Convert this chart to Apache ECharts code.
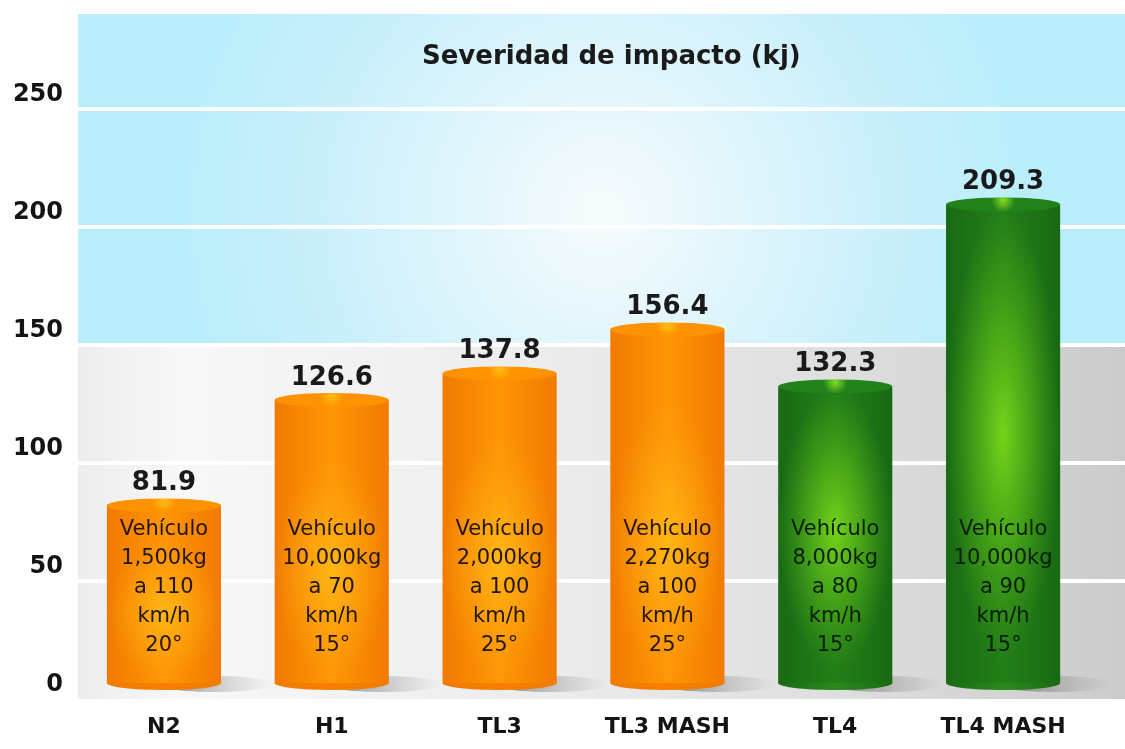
<!DOCTYPE html>
<html>
<head>
<meta charset="utf-8">
<script src="https://cdn.jsdelivr.net/npm/echarts@6/dist/echarts.min.js"></script>
<style>
html,body{margin:0;padding:0;background:#ffffff;}
#chart{width:1125px;height:749px;}
</style>
</head>
<body>
<div id="chart"></div>
<script>
const categories = ['N2', 'H1', 'TL3', 'TL3 MASH', 'TL4', 'TL4 MASH'];
const values = [81.9, 126.6, 137.8, 156.4, 132.3, 209.3];
const vehicleNotes = [
  'Vehículo\n1,500kg\na 110\nkm/h\n20°',
  'Vehículo\n10,000kg\na 70\nkm/h\n15°',
  'Vehículo\n2,000kg\na 100\nkm/h\n25°',
  'Vehículo\n2,270kg\na 100\nkm/h\n25°',
  'Vehículo\n8,000kg\na 80\nkm/h\n15°',
  'Vehículo\n10,000kg\na 90\nkm/h\n15°'
];
const barGroups = ['orange', 'orange', 'orange', 'orange', 'green', 'green'];
const yTicks = [0, 50, 100, 150, 200, 250];
const yMax = 290;
const zoneSplit = 150;
const titleText = 'Severidad de impacto (kj)';

const FONT = 'DejaVu Sans';
const G = echarts.graphic;

const palettes = {
  orange: {
    edge: '#f27a00', mid: '#ff9606', bottom: '#f58000',
    glowCore: 'rgba(255,186,22,0.9)', glowMid: 'rgba(255,176,18,0.5)', glowOut: 'rgba(255,170,15,0)',
    glowPos: 0.6,
    topCenter: '#ffbd14', topEdge: '#ff9200',
    text: '#231500'
  },
  green: {
    edge: '#186a13', mid: '#237f18', bottom: '#2a8a1c',
    glowCore: 'rgba(122,216,26,0.95)', glowMid: 'rgba(100,196,24,0.55)', glowOut: 'rgba(90,180,22,0)',
    glowPos: 0.48,
    topCenter: '#86dc22', topEdge: '#22821a',
    text: '#0a1d05'
  }
};

const chart = echarts.init(document.getElementById('chart'), null, {renderer: 'canvas'});

function renderCylinder(params, api) {
  const i = api.value(0);
  const v = api.value(1);
  const base = api.coord([i, 0]);
  const top = api.coord([i, v]);
  const w = api.size([1, 0])[0] * 0.68;
  const cx = base[0];
  const x0 = cx - w / 2;
  const yb = base[1] - 16;
  const yt = top[1];
  const ry = 7;
  const p = palettes[barGroups[i]];
  const h = yb - yt;
  const glowCy = yt + h * p.glowPos;
  const glowH = 2 * Math.min(glowCy - yt, yb - glowCy) * 0.98;
  return {
    type: 'group',
    children: [
      {
        type: 'ellipse',
        shape: {cx: cx + w * 0.45, cy: yb + 1, rx: w * 0.5, ry: 8},
        style: {fill: new G.LinearGradient(0, 0, 1, 0, [
          {offset: 0, color: 'rgba(60,60,60,0.6)'},
          {offset: 0.55, color: 'rgba(90,90,90,0.25)'},
          {offset: 1, color: 'rgba(120,120,120,0)'}
        ])}
      },
      {
        type: 'ellipse',
        shape: {cx: cx, cy: yb, rx: w / 2, ry: ry},
        style: {fill: new G.LinearGradient(0, 0, 1, 0, [
          {offset: 0, color: p.edge},
          {offset: 0.5, color: p.bottom},
          {offset: 1, color: p.edge}
        ])}
      },
      {
        type: 'rect',
        shape: {x: x0, y: yt, width: w, height: h},
        style: {fill: new G.LinearGradient(0, 0, 1, 0, [
          {offset: 0, color: p.edge},
          {offset: 0.5, color: p.mid},
          {offset: 1, color: p.edge}
        ])}
      },
      {
        type: 'ellipse',
        shape: {cx: cx, cy: glowCy, rx: w / 2, ry: w / 2},
        originX: cx, originY: glowCy,
        scaleY: glowH / w,
        style: {fill: new G.RadialGradient(0.5, 0.5, 0.5, [
          {offset: 0, color: p.glowCore},
          {offset: 0.5, color: p.glowMid},
          {offset: 1, color: p.glowOut}
        ])}
      },
      {
        type: 'ellipse',
        shape: {cx: cx, cy: yt, rx: w / 2, ry: ry},
        style: {fill: new G.RadialGradient(0.5, 0.2, 0.85, [
          {offset: 0, color: p.topCenter},
          {offset: 1, color: p.topEdge}
        ])}
      },
      {
        type: 'text',
        style: {
          text: v.toFixed(1), x: cx, y: yt - 9,
          align: 'center', verticalAlign: 'bottom',
          fontFamily: FONT, fontWeight: 'bold', fontSize: 26, fill: '#1a1a1a'
        }
      },
      {
        type: 'text',
        style: {
          text: vehicleNotes[i], x: cx, y: base[1] - 111,
          align: 'center', verticalAlign: 'middle', lineHeight: 29,
          fontFamily: FONT, fontSize: 21, fill: p.text
        }
      }
    ]
  };
}

const grayZone = new G.LinearGradient(0, 0, 1, 0, [
  {offset: 0, color: '#ededed'},
  {offset: 0.1, color: '#f8f8f8'},
  {offset: 0.45, color: '#ececec'},
  {offset: 0.75, color: '#dddddd'},
  {offset: 1, color: '#cbcbcb'}
]);
const blueZone = new G.RadialGradient(0.5, 0.6, 1.25, [
  {offset: 0, color: '#f7fcfe'},
  {offset: 0.35, color: '#e0f5fc'},
  {offset: 0.75, color: '#c6effb'},
  {offset: 1, color: '#bbeefb'}
]);

const option = {
  animation: false,
  backgroundColor: '#ffffff',
  title: {
    text: titleText,
    left: 417, top: 39,
    textStyle: {fontFamily: FONT, fontWeight: 'bold', fontSize: 26, color: '#1a1a1a'}
  },
  grid: [
    {left: 78, right: 0, top: 14, bottom: 50},
    {left: 80, width: 1007, top: 14, bottom: 50}
  ],
  xAxis: [
    {gridIndex: 0, type: 'value', min: 0, max: 1, show: false},
    {
      gridIndex: 1, type: 'category', data: categories,
      axisLine: {show: false}, axisTick: {show: false},
      axisLabel: {margin: 17, fontFamily: FONT, fontWeight: 'bold', fontSize: 22, color: '#141414'}
    }
  ],
  yAxis: [
    {
      gridIndex: 0, type: 'value', min: 0, max: yMax, interval: 50,
      axisLine: {show: false}, axisTick: {show: false}, splitLine: {show: false},
      axisLabel: {
        margin: 15, fontFamily: FONT, fontWeight: 'bold', fontSize: 24, color: '#141414',
        verticalAlign: 'bottom', padding: [0, 0, 2, 0],
        showMaxLabel: false,
        formatter: function (val) { return yTicks.indexOf(val) >= 0 ? String(val) : ''; }
      }
    },
    {gridIndex: 1, type: 'value', min: 0, max: yMax, show: false}
  ],
  series: [
    {
      type: 'line', xAxisIndex: 0, yAxisIndex: 0, data: [], silent: true, z: 0,
      markArea: {
        silent: true,
        data: [
          [{yAxis: 0, itemStyle: {color: grayZone}}, {yAxis: zoneSplit}],
          [{yAxis: zoneSplit, itemStyle: {color: blueZone}}, {yAxis: yMax}]
        ]
      },
      markLine: {
        silent: true, symbol: 'none',
        label: {show: false},
        lineStyle: {color: '#ffffff', width: 4, type: 'solid'},
        data: yTicks.filter(t => t > 0).map(t => ({yAxis: t}))
      }
    },
    {
      type: 'custom', xAxisIndex: 1, yAxisIndex: 1, z: 5,
      data: values.map((v, i) => [i, v]),
      encode: {x: 0, y: 1},
      renderItem: renderCylinder
    }
  ]
};
chart.setOption(option);
</script>
</body>
</html>
